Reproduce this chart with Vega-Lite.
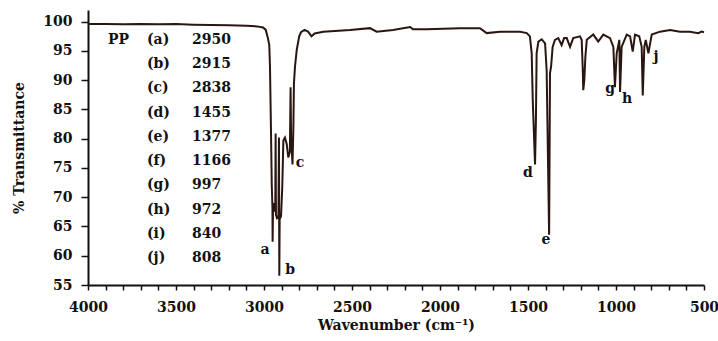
{
  "$schema": "https://vega.github.io/schema/vega-lite/v6.json",
  "width": 616,
  "height": 275,
  "autosize": {"type": "none"},
  "padding": {"left": 88, "top": 10, "right": 14, "bottom": 56},
  "background": "white",
  "config": {"view": {"stroke": null}, "font": "DejaVu Serif"},
  "datasets": {
    "spectrum": [
      {"i":1,"w":4000,"t":99.6},{"i":2,"w":3900,"t":99.6},{"i":3,"w":3800,"t":99.55},{"i":4,"w":3700,"t":99.6},
      {"i":5,"w":3600,"t":99.55},{"i":6,"w":3500,"t":99.6},{"i":7,"w":3400,"t":99.5},{"i":8,"w":3300,"t":99.45},
      {"i":9,"w":3200,"t":99.4},{"i":10,"w":3100,"t":99.3},{"i":11,"w":3040,"t":99.2},{"i":12,"w":3005,"t":99.0},
      {"i":13,"w":2990,"t":98.6},{"i":14,"w":2978,"t":97.2},{"i":15,"w":2970,"t":96.0},{"i":16,"w":2966,"t":92.3},
      {"i":17,"w":2960,"t":80.8},{"i":18,"w":2956,"t":72.2},{"i":19,"w":2952,"t":68.2},{"i":20,"w":2951,"t":62.4},
      {"i":21,"w":2949,"t":67.5},{"i":22,"w":2943,"t":69.0},{"i":23,"w":2936,"t":67.5},{"i":24,"w":2934,"t":80.9},
      {"i":25,"w":2932,"t":67.0},{"i":26,"w":2926,"t":66.4},{"i":27,"w":2918,"t":66.6},{"i":28,"w":2915,"t":80.2},
      {"i":29,"w":2913,"t":56.6},{"i":30,"w":2911,"t":66.2},{"i":31,"w":2903,"t":66.8},{"i":32,"w":2896,"t":72.0},
      {"i":33,"w":2890,"t":79.7},{"i":34,"w":2881,"t":80.2},{"i":35,"w":2871,"t":79.1},{"i":36,"w":2862,"t":76.8},
      {"i":37,"w":2853,"t":77.8},{"i":38,"w":2849,"t":88.8},{"i":39,"w":2846,"t":80.0},{"i":40,"w":2838,"t":75.6},
      {"i":41,"w":2833,"t":82.0},{"i":42,"w":2830,"t":89.4},{"i":43,"w":2824,"t":92.3},{"i":44,"w":2814,"t":95.2},
      {"i":45,"w":2800,"t":97.5},{"i":46,"w":2790,"t":98.2},{"i":47,"w":2770,"t":98.6},{"i":48,"w":2750,"t":98.3},
      {"i":49,"w":2730,"t":97.5},{"i":50,"w":2712,"t":98.0},{"i":51,"w":2663,"t":98.3},{"i":52,"w":2511,"t":98.6},
      {"i":53,"w":2398,"t":98.9},{"i":54,"w":2360,"t":98.3},{"i":55,"w":2267,"t":98.6},{"i":56,"w":2170,"t":99.1},
      {"i":57,"w":2153,"t":98.7},{"i":58,"w":2076,"t":98.7},{"i":59,"w":1886,"t":98.9},{"i":60,"w":1773,"t":98.9},
      {"i":61,"w":1735,"t":98.05},{"i":62,"w":1659,"t":98.3},{"i":63,"w":1545,"t":98.3},{"i":64,"w":1507,"t":98.05},
      {"i":65,"w":1489,"t":97.5},{"i":66,"w":1479,"t":94.6},{"i":67,"w":1473,"t":86.6},{"i":68,"w":1460,"t":75.6},
      {"i":69,"w":1455,"t":83.1},{"i":70,"w":1451,"t":94.6},{"i":71,"w":1441,"t":96.6},{"i":72,"w":1422,"t":97.0},
      {"i":73,"w":1403,"t":96.3},{"i":74,"w":1394,"t":91.7},{"i":75,"w":1380,"t":63.6},{"i":76,"w":1375,"t":91.2},
      {"i":77,"w":1369,"t":92.3},{"i":78,"w":1360,"t":95.7},{"i":79,"w":1347,"t":96.9},{"i":80,"w":1328,"t":97.2},
      {"i":81,"w":1309,"t":96.0},{"i":82,"w":1295,"t":97.2},{"i":83,"w":1280,"t":97.2},{"i":84,"w":1261,"t":95.7},
      {"i":85,"w":1243,"t":97.2},{"i":86,"w":1205,"t":97.5},{"i":87,"w":1195,"t":96.9},{"i":88,"w":1189,"t":92.0},
      {"i":89,"w":1186,"t":88.3},{"i":90,"w":1180,"t":90.0},{"i":91,"w":1174,"t":94.0},{"i":92,"w":1166,"t":96.9},
      {"i":93,"w":1129,"t":97.8},{"i":94,"w":1101,"t":96.6},{"i":95,"w":1072,"t":97.8},{"i":96,"w":1034,"t":97.2},
      {"i":97,"w":1015,"t":95.7},{"i":98,"w":1006,"t":88.8},{"i":99,"w":996,"t":94.6},{"i":100,"w":981,"t":96.9},
      {"i":101,"w":977,"t":88.0},{"i":102,"w":968,"t":95.7},{"i":103,"w":939,"t":97.8},{"i":104,"w":920,"t":97.5},
      {"i":105,"w":905,"t":94.9},{"i":106,"w":892,"t":97.8},{"i":107,"w":868,"t":97.5},{"i":108,"w":854,"t":95.7},
      {"i":109,"w":848,"t":87.4},{"i":110,"w":839,"t":95.7},{"i":111,"w":831,"t":96.9},{"i":112,"w":816,"t":94.6},
      {"i":113,"w":797,"t":97.8},{"i":114,"w":750,"t":98.3},{"i":115,"w":693,"t":98.6},{"i":116,"w":636,"t":98.3},
      {"i":117,"w":580,"t":98.3},{"i":118,"w":532,"t":98.05},{"i":119,"w":514,"t":98.3},{"i":120,"w":500,"t":98.2}
    ],
    "peaks": [
      {"label":"a","w":2994,"t":60.9},{"label":"b","w":2852,"t":57.5},{"label":"c","w":2795,"t":75.9},
      {"label":"d","w":1500,"t":74.2},{"label":"e","w":1398,"t":62.7},{"label":"g","w":1034,"t":88.5},
      {"label":"h","w":937,"t":86.8},{"label":"j","w":773,"t":94.0}
    ],
    "legend": [
      {"txt":"PP","w":3886,"t":96.87},
      {"txt":"(a)","w":3665,"t":96.87},{"txt":"2950","w":3409,"t":96.87},
      {"txt":"(b)","w":3665,"t":92.74},{"txt":"2915","w":3409,"t":92.74},
      {"txt":"(c)","w":3665,"t":88.6},{"txt":"2838","w":3409,"t":88.6},
      {"txt":"(d)","w":3665,"t":84.45},{"txt":"1455","w":3409,"t":84.45},
      {"txt":"(e)","w":3665,"t":80.31},{"txt":"1377","w":3409,"t":80.31},
      {"txt":"(f)","w":3665,"t":76.18},{"txt":"1166","w":3409,"t":76.18},
      {"txt":"(g)","w":3665,"t":72.04},{"txt":"997","w":3409,"t":72.04},
      {"txt":"(h)","w":3665,"t":67.89},{"txt":"972","w":3409,"t":67.89},
      {"txt":"(i)","w":3665,"t":63.75},{"txt":"840","w":3409,"t":63.75},
      {"txt":"(j)","w":3665,"t":59.61},{"txt":"808","w":3409,"t":59.61}
    ]
  },
  "layer": [
    {
      "data": {"name": "spectrum"},
      "mark": {"type": "line", "color": "#2a1610", "strokeWidth": 2},
      "encoding": {
        "x": {
          "field": "w", "type": "quantitative",
          "scale": {"domain": [500, 4000], "reverse": true, "nice": false, "zero": false},
          "axis": {
            "title": "Wavenumber (cm⁻¹)",
            "values": [4000,3900,3800,3700,3600,3500,3400,3300,3200,3100,3000,2900,2800,2700,2600,2500,2400,2300,2200,2100,2000,1900,1800,1700,1600,1500,1400,1300,1200,1100,1000,900,800,700,600,500],
            "tickCount": 100,
            "labelExpr": "datum.value % 500 === 0 ? format(datum.value, 'd') : ''",
            "grid": false, "domainColor": "#111", "domainWidth": 2,
            "tickColor": "#111", "tickWidth": 1.5, "tickSize": 5,
            "labelFont": "DejaVu Serif", "labelFontWeight": "bold", "labelFontSize": 14, "labelColor": "#111",
            "labelPadding": 10, "labelOverlap": false, "labelFlush": false,
            "titleFont": "DejaVu Serif", "titleFontWeight": "bold", "titleFontSize": 14, "titleColor": "#111",
            "titlePadding": 4
          }
        },
        "y": {
          "field": "t", "type": "quantitative",
          "scale": {"domain": [55, 102], "nice": false, "zero": false},
          "axis": {
            "title": "% Transmittance",
            "values": [55,60,65,70,75,80,85,90,95,100],
            "tickCount": 100,
            "format": "d",
            "labelOverlap": false,
            "grid": false, "domainColor": "#111", "domainWidth": 2,
            "tickColor": "#111", "tickWidth": 1.5, "tickSize": 7,
            "labelFont": "DejaVu Serif", "labelFontWeight": "bold", "labelFontSize": 14, "labelColor": "#111",
            "labelPadding": 9,
            "titleFont": "DejaVu Serif", "titleFontWeight": "bold", "titleFontSize": 14, "titleColor": "#111",
            "titlePadding": 16
          }
        },
        "order": {"field": "i", "type": "quantitative"}
      }
    },
    {
      "data": {"name": "peaks"},
      "mark": {"type": "text", "font": "DejaVu Serif", "fontWeight": "bold", "fontSize": 14, "color": "#111", "align": "center", "baseline": "middle"},
      "encoding": {
        "x": {"field": "w", "type": "quantitative"},
        "y": {"field": "t", "type": "quantitative"},
        "text": {"field": "label"}
      }
    },
    {
      "data": {"name": "legend"},
      "mark": {"type": "text", "font": "DejaVu Serif", "fontWeight": "bold", "fontSize": 14, "color": "#111", "align": "left", "baseline": "middle"},
      "encoding": {
        "x": {"field": "w", "type": "quantitative"},
        "y": {"field": "t", "type": "quantitative"},
        "text": {"field": "txt"}
      }
    }
  ]
}
